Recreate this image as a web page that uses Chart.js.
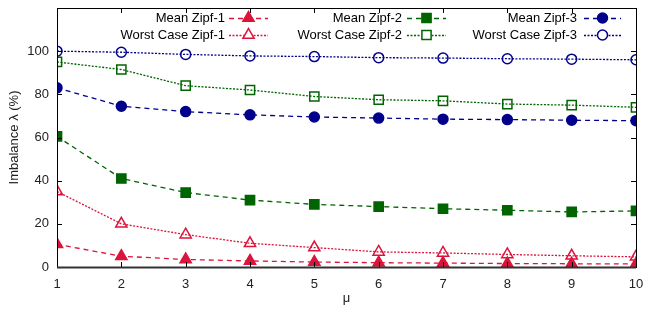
<!DOCTYPE html>
<html>
<head>
<meta charset="utf-8">
<script src="https://cdn.jsdelivr.net/npm/chart.js@4"></script>
<style>
  html, body { margin: 0; padding: 0; background: #fff; }
  #wrap { width: 645px; height: 310px; }
</style>
</head>
<body>
<div id="wrap"><canvas id="imbalanceChart"></canvas></div>
<script>
// mu values on the x axis
const muValues = [1, 2, 3, 4, 5, 6, 7, 8, 9, 10];
const yTicks = [0, 20, 40, 60, 80, 100];

const meanZipf1 = [10.5, 5, 3.5, 2.8, 2.3, 2, 1.8, 1.6, 1.5, 1.4];
const worstZipf1 = [35, 20, 15, 11, 9, 7, 6.5, 5.8, 5.2, 4.7];
const meanZipf2 = [60.5, 41, 34.5, 31, 29, 28, 27, 26.3, 25.5, 26];
const worstZipf2 = [95, 91.5, 84, 82, 79, 77.5, 77, 75.5, 75, 74];
const meanZipf3 = [83, 74.5, 72, 70.5, 69.5, 69, 68.5, 68.3, 68, 67.8];
const worstZipf3 = [100, 99.5, 98.5, 97.8, 97.5, 97, 96.8, 96.5, 96.3, 96];

const RED = "#dc143c";
const GREEN = "#006400";
const NAVY = "#00008b";
const FONT = "'Liberation Sans', Arial, sans-serif";

function toPoints(values) {
  return values.map((v, i) => ({ x: muValues[i], y: v }));
}

function series(label, values, color, style, filled, dashed, radius) {
  return {
    label: label,
    data: toPoints(values),
    borderColor: color,
    backgroundColor: filled ? color : "rgba(0,0,0,0)",
    pointBorderColor: color,
    pointBackgroundColor: filled ? color : "rgba(0,0,0,0)",
    pointStyle: style,
    pointRadius: radius,
    pointBorderWidth: 1.5,
    borderWidth: 1.3,
    borderDash: dashed ? [5, 4] : [2, 1.5],
    tension: 0,
  };
}

const datasets = [
  series("Mean Zipf-1", meanZipf1, RED, "triangle", true, true, 6.5),
  series("Worst Case Zipf-1", worstZipf1, RED, "triangle", false, false, 6.5),
  series("Mean Zipf-2", meanZipf2, GREEN, "rect", true, true, 6.5),
  series("Worst Case Zipf-2", worstZipf2, GREEN, "rect", false, false, 6.5),
  series("Mean Zipf-3", meanZipf3, NAVY, "circle", true, true, 5),
  series("Worst Case Zipf-3", worstZipf3, NAVY, "circle", false, false, 5),
];

// legend columns: right edge of text, sample start/end
const legendCols = [
  { textRight: 225, x0: 229, x1: 268 },
  { textRight: 402, x0: 407, x1: 446 },
  { textRight: 577, x0: 584, x1: 621 },
];
const legendRows = [18, 35];

const framePlugin = {
  id: "frame",
  afterDatasetsDraw(chart) {
    const ctx = chart.ctx;
    const a = chart.chartArea;
    const xs = chart.scales.x;
    const ys = chart.scales.y;
    ctx.save();
    ctx.strokeStyle = "#000";
    ctx.lineWidth = 1;
    ctx.strokeRect(a.left + 0.5, a.top + 0.5, a.right - a.left, a.bottom - a.top);
    ctx.beginPath();
    yTicks.forEach((t) => {
      const py = Math.round(ys.getPixelForValue(t)) + 0.5;
      ctx.moveTo(a.left, py);
      ctx.lineTo(a.left + 5, py);
      ctx.moveTo(a.right, py);
      ctx.lineTo(a.right - 5, py);
    });
    muValues.forEach((m) => {
      const px = Math.round(xs.getPixelForValue(m)) + 0.5;
      ctx.moveTo(px, a.bottom);
      ctx.lineTo(px, a.bottom - 5);
      ctx.moveTo(px, a.top);
      ctx.lineTo(px, a.top + 5);
    });
    ctx.stroke();
    ctx.strokeStyle = "#333";
    ctx.lineWidth = 2;
    ctx.beginPath();
    ctx.moveTo(a.left, a.bottom + 0.5);
    ctx.lineTo(a.right, a.bottom + 0.5);
    ctx.stroke();

    // gnuplot-style legend
    ctx.font = "13px " + FONT;
    ctx.textAlign = "right";
    ctx.textBaseline = "middle";
    datasets.forEach((ds, i) => {
      const col = legendCols[Math.floor(i / 2)];
      const y = legendRows[i % 2];
      ctx.fillStyle = "#000";
      ctx.fillText(ds.label, col.textRight, y);
      ctx.strokeStyle = ds.borderColor;
      ctx.lineWidth = ds.borderWidth;
      ctx.setLineDash(ds.borderDash);
      ctx.beginPath();
      ctx.moveTo(col.x0, y + 0.5);
      ctx.lineTo(col.x1, y + 0.5);
      ctx.stroke();
      ctx.setLineDash([]);
      const cx = (col.x0 + col.x1) / 2;
      const opts = {
        pointStyle: ds.pointStyle,
        radius: ds.pointRadius,
        borderWidth: ds.pointBorderWidth,
      };
      ctx.fillStyle = "#fff";
      ctx.strokeStyle = "#fff";
      Chart.helpers.drawPoint(ctx, opts, cx, y);
      ctx.strokeStyle = ds.pointBorderColor;
      ctx.fillStyle = ds.pointBackgroundColor;
      ctx.lineWidth = ds.pointBorderWidth;
      Chart.helpers.drawPoint(ctx, opts, cx, y);
    });
    ctx.restore();
  },
};

const ctx = document.getElementById("imbalanceChart").getContext("2d");
window.chart1 = new Chart(ctx, {
  type: "line",
  data: { datasets: datasets },
  options: {
    responsive: true,
    maintainAspectRatio: false,
    animation: false,
    layout: { padding: { top: 6, right: 9, left: 0, bottom: 0 } },
    scales: {
      x: {
        type: "linear",
        min: 1,
        max: 10,
        afterFit: (s) => {
          s.height = 43;
          s.paddingLeft = 0;
          s.paddingRight = 0;
        },
        grid: { display: false, drawTicks: false },
        border: { display: false },
        ticks: {
          stepSize: 1,
          padding: 10,
          color: "#222",
          font: { family: FONT, size: 13 },
        },
        title: {
          display: true,
          text: "μ",
          color: "#222",
          padding: { top: 0, bottom: 4 },
          font: { family: FONT, size: 13 },
        },
      },
      y: {
        min: 0,
        max: 120,
        afterFit: (s) => {
          s.width = 57;
          s.paddingTop = 0;
          s.paddingBottom = 0;
        },
        grid: { display: false, drawTicks: false },
        border: { display: false },
        ticks: {
          stepSize: 20,
          padding: 8,
          color: "#222",
          font: { family: FONT, size: 13 },
          callback: (v) => (v > 100 ? "" : v),
        },
        title: {
          display: true,
          text: "Imbalance λ (%)",
          color: "#222",
          padding: { top: 7, bottom: 0 },
          font: { family: FONT, size: 13 },
        },
      },
    },
    plugins: {
      legend: { display: false },
      tooltip: { enabled: false },
    },
  },
  plugins: [framePlugin],
});
</script>
</body>
</html>
